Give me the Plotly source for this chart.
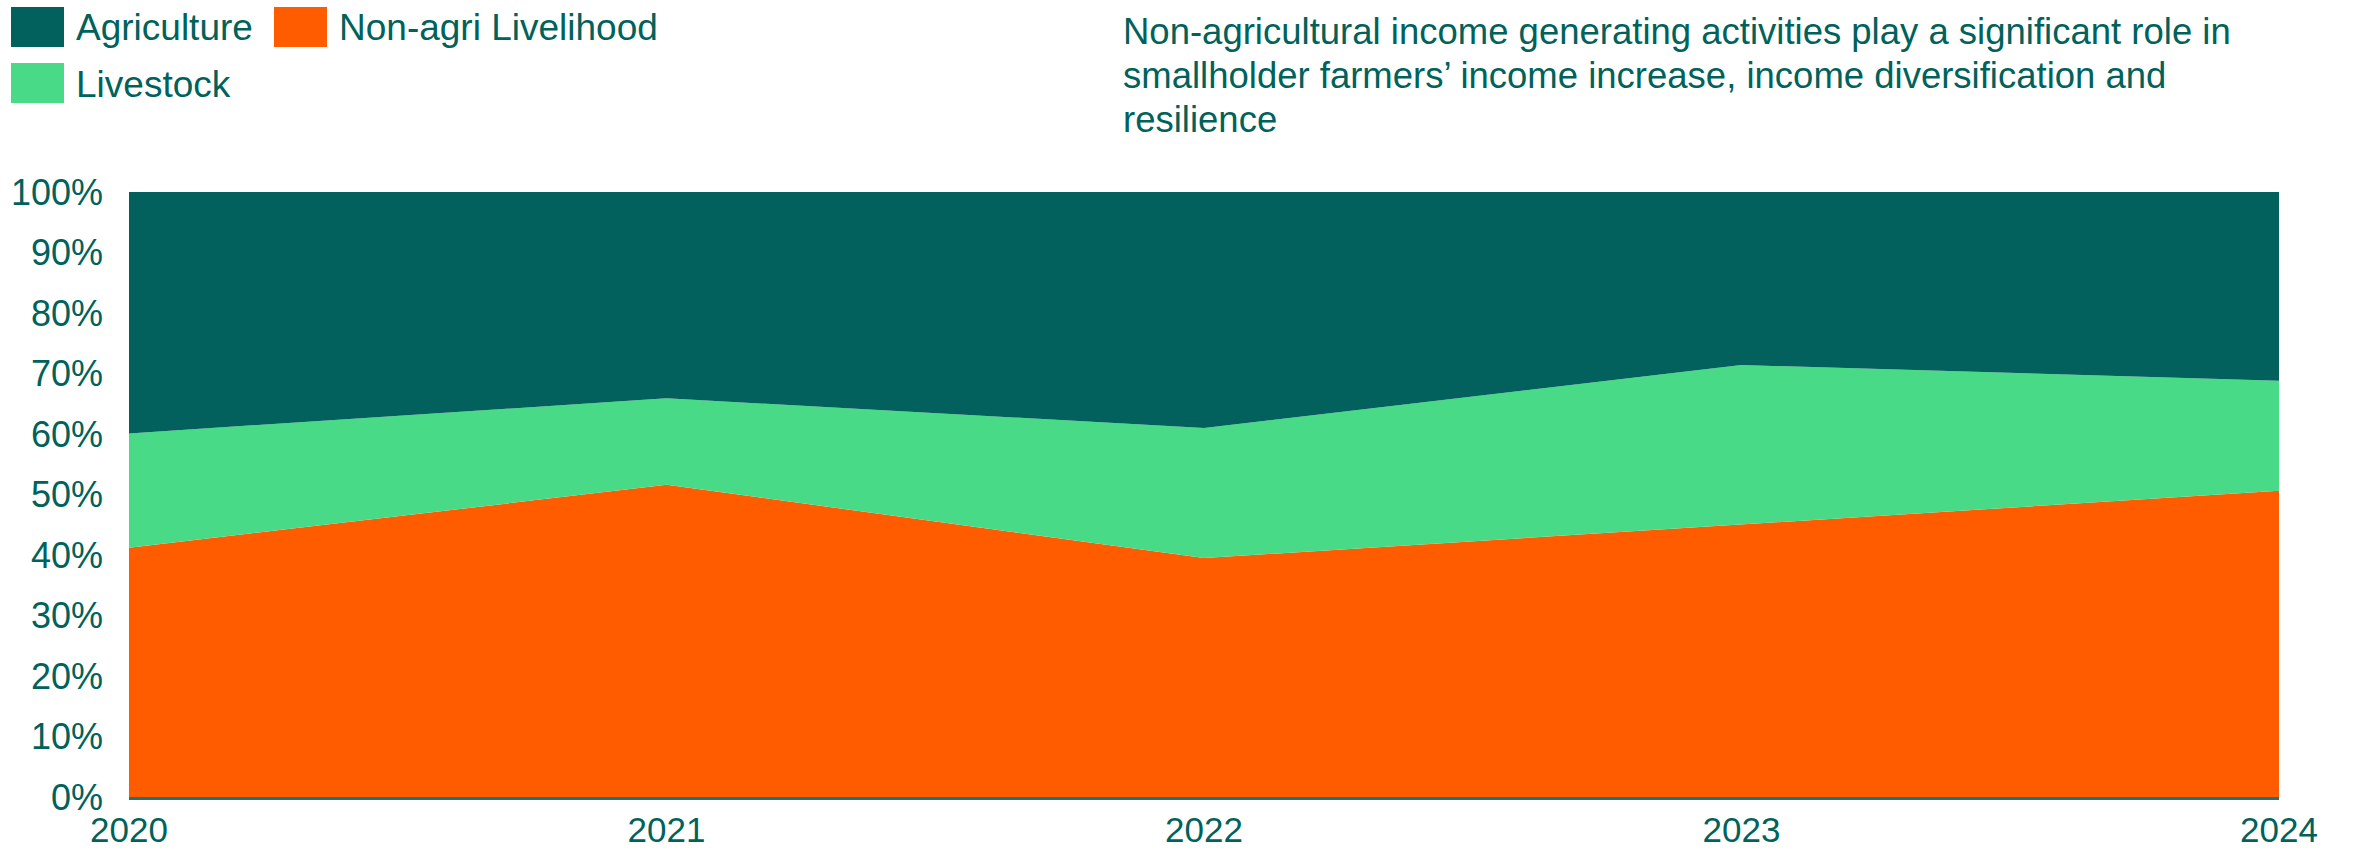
import plotly.graph_objects as go

years = [2020, 2021, 2022, 2023, 2024]
non_agri = [41.2, 51.6, 39.5, 45.0, 50.6]
livestock = [18.9, 14.3, 21.5, 26.4, 18.2]
agriculture = [39.9, 34.1, 39.0, 28.6, 31.2]
y_ticks = [0, 10, 20, 30, 40, 50, 60, 70, 80, 90, 100]
y_tick_labels = [f"{v}%" for v in y_ticks]
x_tick_labels = [str(y) for y in years]
title_lines = [
    "Non-agricultural income generating activities play a significant role in",
    "smallholder farmers\u2019 income increase, income diversification and",
    "resilience",
]

TEAL = "#02615C"
ORANGE = "#FF5C00"
GREEN = "#49DA88"
TEXT = "#00625B"
FONT = "Liberation Sans, Arial, sans-serif"

W, H = 2354, 852
L, R, T, B = 129, 75, 192, 55
PW, PH = W - L - R, H - T - B


def px(x):
    return (x - L) / PW


def py(y):
    return (H - B - y) / PH


fig = go.Figure()
for name, vals, col in [("Non-agri Livelihood", non_agri, ORANGE),
                        ("Livestock", livestock, GREEN),
                        ("Agriculture", agriculture, TEAL)]:
    fig.add_trace(go.Scatter(
        x=years, y=vals, name=name, mode="lines", stackgroup="one",
        groupnorm="percent", line=dict(width=0, color=col), fillcolor=col,
        showlegend=False, hoverinfo="x+y+name"))

shapes = []
annotations = []
legend_items = [("Agriculture", TEAL, 11, 7), ("Non-agri Livelihood", ORANGE, 274, 7),
                ("Livestock", GREEN, 11, 63)]
for name, col, x0, y0 in legend_items:
    shapes.append(dict(type="rect", xref="paper", yref="paper",
                       x0=px(x0), x1=px(x0 + 53), y0=py(y0), y1=py(y0 + 40),
                       fillcolor=col, line=dict(width=0)))
    annotations.append(dict(text=name, xref="paper", yref="paper",
                            x=px(x0 + 63), y=py(y0 + 21), xanchor="left", yanchor="middle",
                            showarrow=False, font=dict(size=37, color=TEXT, family=FONT)))

for i, line in enumerate(title_lines):
    annotations.append(dict(
        text=line, xref="paper", yref="paper", x=px(1121), y=py(31 + 44 * i),
        xanchor="left", yanchor="middle", align="left", showarrow=False,
        font=dict(size=36.5, color=TEXT, family=FONT)))

fig.update_layout(
    width=W, height=H, margin=dict(l=L, r=R, t=T, b=B, pad=0),
    paper_bgcolor="white", plot_bgcolor="white",
    font=dict(family=FONT, color=TEXT, size=35),
    shapes=shapes, annotations=annotations,
    xaxis=dict(range=[2020, 2024], tickvals=years, ticktext=x_tick_labels,
               showgrid=False, zeroline=False, showline=True, linecolor="#1E756F",
               linewidth=2.5, ticks="", tickfont=dict(size=35, color=TEXT),
               ticklabelstandoff=0, automargin=False),
    yaxis=dict(range=[0, 100], tickvals=y_ticks, ticktext=y_tick_labels,
               showgrid=False, zeroline=False, showline=False, ticks="",
               tickfont=dict(size=36, color=TEXT), ticklabelstandoff=25,
               automargin=False),
)

fig.write_html("out.html")
